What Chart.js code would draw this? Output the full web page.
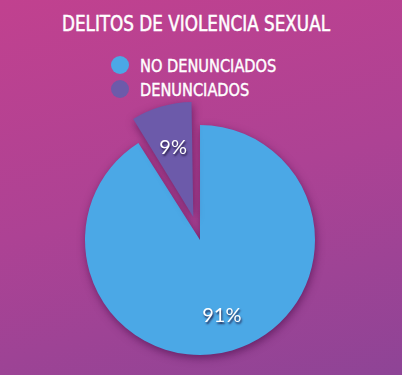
<!DOCTYPE html>
<html>
<head>
<meta charset="utf-8">
<script src="https://cdn.jsdelivr.net/npm/chart.js"></script>
<style>
  html, body { margin: 0; padding: 0; }
  body {
    width: 402px; height: 375px; overflow: hidden; position: relative;
    background: linear-gradient(165deg, #c1418f 0%, #ad4294 50%, #8e4496 100%);
    font-family: 'DejaVu Sans Condensed', sans-serif;
    color: #fff;
  }
  #title {
    position: absolute; left: -5px; width: 402px; top: 12px;
    text-align: center; font-size: 21px; -webkit-text-stroke: 0.5px #fff;
    transform: scaleX(0.89); transform-origin: 50% 0;
  }
  #legend { position: absolute; left: 111px; top: 53px; }
  .item { height: 24px; display: flex; align-items: center; font-size: 18px; -webkit-text-stroke: 0.4px #fff; }
  .dot { width: 18px; height: 18px; border-radius: 50%; margin-right: 11px; }
  .txt { display: inline-block; transform: scaleX(0.9); transform-origin: 0 50%; }
  canvas { position: absolute; left: 0; top: 0; }
</style>
</head>
<body>
<div id="title"></div>
<div id="legend"></div>
<canvas id="chart" width="402" height="375"></canvas>
<script>
const chartTitle = 'DELITOS DE VIOLENCIA SEXUAL';
const categories = ['NO DENUNCIADOS', 'DENUNCIADOS'];
const values = [91, 9];
const colors = ['#4ba8e6', '#6c5aaa'];
const offsets = [0, 96];
const pieRadius = 115;

document.getElementById('title').textContent = chartTitle;
const legendEl = document.getElementById('legend');
categories.forEach((c, i) => {
  const row = document.createElement('div');
  row.className = 'item';
  row.innerHTML = `<span class="dot" style="background:${colors[i]}"></span><span class="txt">${c}</span>`;
  legendEl.appendChild(row);
});

// Chart.js moves an offset slice out by offset/4 and also grows it a bit; undo the growth
const keepRadius = {
  id: 'keepRadius',
  afterUpdate(chart) {
    chart.getDatasetMeta(0).data.forEach((arc, i) => {
      const fix = 1 - Math.sin(Math.min(Math.PI, arc.circumference));
      arc.outerRadius = pieRadius - (offsets[i] / 4) * fix;
    });
  },
};

// soft dark shadow under the slices
const shadowPlugin = {
  id: 'sliceShadow',
  beforeDatasetsDraw(chart) {
    const ctx = chart.ctx;
    ctx.save();
    ctx.shadowColor = 'rgba(70, 10, 70, 0.6)';
    ctx.shadowBlur = 8;
    ctx.shadowOffsetX = 1;
    ctx.shadowOffsetY = 3;
  },
  afterDatasetsDraw(chart) {
    chart.ctx.restore();
  },
};

// percentage labels inside the slices
const labelPlugin = {
  id: 'pctLabels',
  afterDatasetsDraw(chart) {
    const ctx = chart.ctx;
    const meta = chart.getDatasetMeta(0);
    const total = values.reduce((a, b) => a + b, 0);
    ctx.save();
    ctx.font = '20px Lato, "Open Sans", sans-serif';
    ctx.textAlign = 'center';
    ctx.textBaseline = 'middle';
    meta.data.forEach((arc, i) => {
      const mid = (arc.startAngle + arc.endAngle) / 2;
      const r = pieRadius * 0.68 + (offsets[i] / 4) * 0.75;
      const x = arc.x + Math.cos(mid) * r;
      const y = arc.y + Math.sin(mid) * r;
      ctx.shadowColor = 'rgba(30, 20, 60, 0.85)';
      ctx.shadowBlur = 2;
      ctx.shadowOffsetX = 1;
      ctx.shadowOffsetY = 2;
      ctx.fillStyle = '#fff';
      ctx.fillText(Math.round(values[i] / total * 100) + '%', x, y);
    });
    ctx.restore();
  },
};

new Chart(document.getElementById('chart'), {
  type: 'pie',
  data: {
    labels: categories,
    datasets: [{
      data: values,
      backgroundColor: colors,
      borderWidth: 0,
      offset: offsets,
    }],
  },
  options: {
    responsive: false,
    animation: false,
    radius: pieRadius,
    layout: { padding: { top: 130, bottom: 25, left: 0, right: 2 } },
    plugins: {
      legend: { display: false },
      title: { display: false },
      tooltip: { enabled: false },
    },
  },
  plugins: [keepRadius, shadowPlugin, labelPlugin],
});
</script>
</body>
</html>
